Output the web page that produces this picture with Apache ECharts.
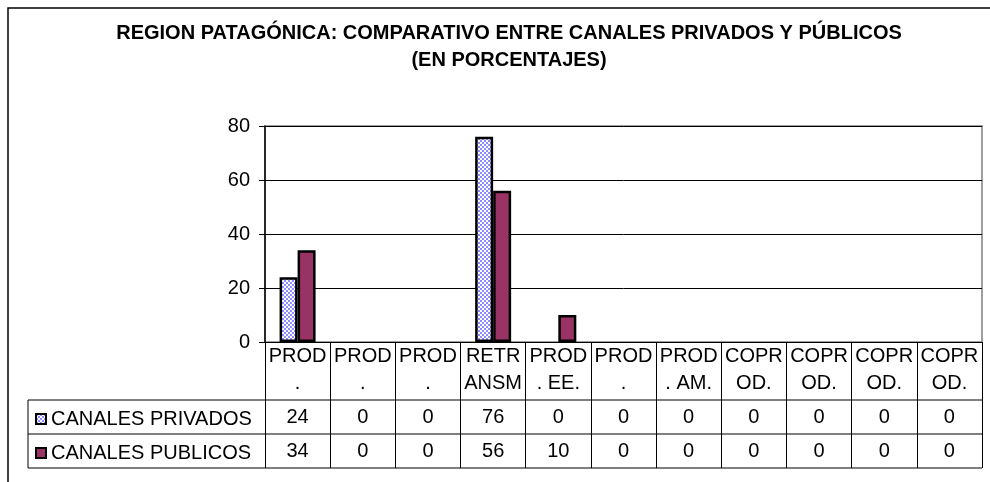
<!DOCTYPE html>
<html>
<head>
<meta charset="utf-8">
<script src="https://cdn.jsdelivr.net/npm/echarts@6/dist/echarts.min.js"></script>
<style>
  html, body { margin: 0; padding: 0; background: #fff; }
  #chart { width: 990px; height: 482px; }
</style>
</head>
<body>
<div id="chart"></div>
<script>
var chart = echarts.init(document.getElementById('chart'));

// datos
var categorias = ['PROD\n.', 'PROD\n.', 'PROD\n.', 'RETR\nANSM', 'PROD\n. EE.', 'PROD\n.', 'PROD\n. AM.', 'COPR\nOD.', 'COPR\nOD.', 'COPR\nOD.', 'COPR\nOD.'];
var privados = [24, 0, 0, 76, 0, 0, 0, 0, 0, 0, 0];
var publicos = [34, 0, 0, 56, 10, 0, 0, 0, 0, 0, 0];
var nombres = ['CANALES PRIVADOS', 'CANALES PUBLICOS'];
var ticksY = [0, 20, 40, 60, 80];

var FONT = "'Liberation Sans', Arial, sans-serif";
var FS = 20;

// layout
var gLeft = 265, gRight = 982, gTop = 126, gBottom = 342;
var row1 = 400, row2 = 434, row3 = 468, tablaIzq = 28;

// trama cuadriculada azul (como el relleno de Excel)
var pat = document.createElement('canvas');
pat.width = 4; pat.height = 4;
var ctx = pat.getContext('2d');
ctx.fillStyle = '#ffffff';
ctx.fillRect(0, 0, 4, 4);
ctx.fillStyle = '#8c8cff';
ctx.fillRect(0, 0, 2, 2);
ctx.fillRect(2, 2, 2, 2);

// Excel no dibuja nada para los ceros
function barras(valores) {
    return valores.map(function (v) {
        return v === 0 ? { value: v, itemStyle: { borderWidth: 0, opacity: 0 } } : v;
    });
}

function valorAxis(offset, valores) {
    return {
        type: 'category',
        data: categorias,
        position: 'bottom',
        offset: offset,
        axisLine: { show: false },
        axisTick: { show: false },
        axisLabel: {
            interval: 0,
            margin: 7,
            fontSize: FS,
            fontFamily: FONT,
            color: '#000',
            formatter: function (v, i) { return String(valores[i]); }
        }
    };
}

var lineas = [];
[row1, row2, row3].forEach(function (y) {
    lineas.push({
        type: 'line',
        shape: { x1: tablaIzq, y1: y, x2: gRight, y2: y },
        style: { stroke: '#000', lineWidth: 1 }
    });
});
lineas.push({
    type: 'line',
    shape: { x1: tablaIzq, y1: row1, x2: tablaIzq, y2: row3 },
    style: { stroke: '#000', lineWidth: 1 }
});
// marco del grafico
lineas.push({
    type: 'rect',
    shape: { x: 8, y: 8, width: 1000, height: 500 },
    style: { fill: 'none', stroke: '#000', lineWidth: 1.5 },
    z: 0
});
lineas.push({
    type: 'text',
    style: {
        text: 'REGION PATAGÓNICA: COMPARATIVO ENTRE CANALES PRIVADOS Y PÚBLICOS\n(EN PORCENTAJES)',
        x: 509, y: 20,
        textAlign: 'center',
        fontSize: 20,
        fontWeight: 'bold',
        fontFamily: FONT,
        lineHeight: 27,
        fill: '#000'
    }
});

var option = {
    backgroundColor: '#fff',
    animation: false,
    graphic: lineas,
    legend: {
        orient: 'vertical',
        left: 30,
        top: 404,
        itemGap: 14,
        itemWidth: 10,
        itemHeight: 10,
        icon: 'rect',
        textStyle: { fontSize: FS, fontFamily: FONT, color: '#000', lineHeight: 20 },
        data: nombres
    },
    grid: {
        left: gLeft,
        right: 990 - gRight,
        top: gTop,
        bottom: 482 - gBottom,
        show: true,
        borderColor: '#808080',
        borderWidth: 1.5
    },
    yAxis: {
        type: 'value',
        min: 0,
        max: 80,
        interval: 20,
        axisLine: { show: true, lineStyle: { color: '#000', width: 1.5 } },
        axisTick: { show: true, length: 6, lineStyle: { color: '#000' } },
        splitLine: { show: true, lineStyle: { color: '#000', width: 1 } },
        axisLabel: {
            margin: 15,
            fontSize: FS,
            fontFamily: FONT,
            color: '#000',
            formatter: function (v) { return ticksY.indexOf(v) >= 0 ? String(v) : ''; }
        }
    },
    xAxis: [{
        type: 'category',
        data: categorias,
        position: 'bottom',
        axisLine: { show: true, lineStyle: { color: '#000', width: 1 } },
        axisTick: { show: true, length: row3 - gBottom, lineStyle: { color: '#000' } },
        axisLabel: {
            interval: 0,
            margin: 1,
            fontSize: FS,
            fontFamily: FONT,
            color: '#000',
            lineHeight: 27,
            align: 'center'
        }
    }, valorAxis(row1 - gBottom, privados), valorAxis(row2 - gBottom, publicos)],
    series: [{
        name: nombres[0],
        type: 'bar',
        data: barras(privados),
        barWidth: 18,
        barGap: 0,
        itemStyle: {
            color: { image: pat, repeat: 'repeat' },
            borderColor: '#000',
            borderWidth: 2.5
        }
    }, {
        name: nombres[1],
        type: 'bar',
        data: barras(publicos),
        barWidth: 18,
        itemStyle: {
            color: '#993366',
            borderColor: '#000',
            borderWidth: 2.5
        }
    }]
};

chart.setOption(option);
</script>
</body>
</html>
